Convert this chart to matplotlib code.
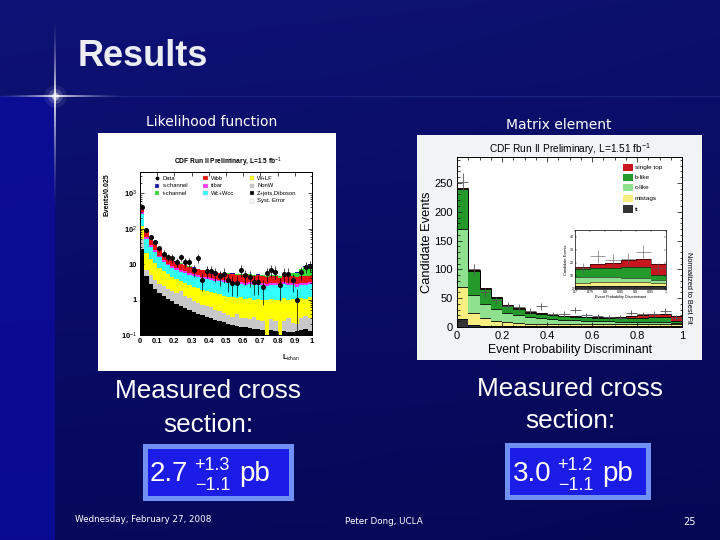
import numpy as np
import matplotlib
matplotlib.use("Agg")
import matplotlib.pyplot as plt
from matplotlib.patches import Rectangle

plt.rcParams['font.family'] = ['Liberation Sans', 'DejaVu Sans']
plt.rcParams['mathtext.fontset'] = 'custom'
plt.rcParams['mathtext.rm'] = 'Liberation Sans'
plt.rcParams['mathtext.it'] = 'Liberation Sans:italic'

W, H = 720, 540

# ---------------- left: likelihood function (Events/0.025) ----------------
lf_edges = np.linspace(0, 1, 41)
lf_zjets = [27, 4.5, 2.8, 2.0, 1.5, 1.25, 1.05, 0.9, 0.75, 0.65,
            0.57, 0.5, 0.44, 0.4, 0.36, 0.33, 0.3, 0.27, 0.25, 0.23,
            0.2, 0.19, 0.18, 0.17, 0.17, 0.16, 0.15, 0.15, 0.14, 0.05,
            0.14, 0.13, 0.05, 0.13, 0.12, 0.12, 0.13, 0.14, 0.15, 0.13]
lf_nonw = [25, 2.5, 2.0, 1.6, 1.3, 1.15, 0.95, 0.9, 0.8, 1.05,
           0.73, 0.6, 0.46, 0.4, 0.36, 0.32, 0.3, 0.25, 0.21, 0.19,
           0.16, 0.14, 0.2, 0.13, 0.13, 0.12, 0.17, 0.11, 0.11, 0.01,
           0.14, 0.11, 0.01, 0.12, 0.18, 0.1, 0.07, 0.16, 0.2, 0.17]
lf_wlf = [68, 13, 9.2, 6.9, 5.2, 3.9, 3.2, 2.6, 2.25, 1.6,
          1.6, 1.5, 1.4, 1.3, 1.18, 1.1, 1.0, 0.98, 0.94, 0.88,
          0.84, 0.82, 0.72, 0.85, 0.75, 0.82, 0.68, 0.79, 0.75, 0.89,
          0.77, 0.76, 0.89, 0.85, 0.7, 0.83, 0.7, 0.8, 0.7, 0.85]
lf_wc = [140, 31, 17, 11.5, 7.6, 5.1, 4.1, 3.4, 3.1, 2.8,
         2.7, 2.5, 2.4, 2.2, 2.1, 2.05, 2.0, 1.9, 1.9, 1.9,
         1.7, 1.65, 1.6, 1.65, 1.55, 1.6, 1.5, 1.55, 1.5, 1.45,
         1.55, 1.5, 1.35, 1.6, 1.5, 1.55, 1.4, 1.5, 1.45, 1.55]
lf_ttbar = [30, 6, 3.6, 2.6, 1.8, 1.3, 1.1, 0.9, 0.8, 0.7,
            0.65, 0.6, 0.55, 0.5, 0.47, 0.44, 0.42, 0.4, 0.38, 0.37,
            0.4, 0.4, 0.4, 0.4, 0.4, 0.4, 0.4, 0.4, 0.4, 0.4,
            0.4, 0.4, 0.4, 0.4, 0.4, 0.4, 0.4, 0.4, 0.4, 0.4]
lf_wbb = [150, 28, 17.4, 12.4, 8.6, 6.3, 5.1, 4.3, 3.8, 3.4,
          3.05, 2.8, 2.55, 2.4, 2.23, 2.06, 1.98, 1.9, 1.82, 1.73,
          2.0, 2.0, 1.9, 1.9, 1.9, 1.9, 1.8, 1.8, 1.7, 1.6,
          1.7, 1.6, 1.5, 1.7, 1.7, 1.7, 1.6, 1.6, 1.6, 1.6]
lf_tchan = [6, 1.5, 1.0, 0.7, 0.5, 0.4, 0.35, 0.3, 0.3, 0.25,
            0.25, 0.2, 0.2, 0.2, 0.2, 0.2, 0.2, 0.2, 0.2, 0.2,
            0.2, 0.2, 0.2, 0.2, 0.2, 0.2, 0.2, 0.25, 0.25, 0.25,
            0.3, 0.3, 0.35, 0.4, 0.5, 0.8, 1.5, 2.5, 4.0, 5.0]
lf_schan = [3, 0.6, 0.4, 0.3, 0.2, 0.15, 0.12, 0.1, 0.1, 0.1,
            0.1, 0.1, 0.1, 0.1, 0.1, 0.1, 0.1, 0.1, 0.1, 0.1,
            0.1, 0.1, 0.1, 0.1, 0.1, 0.1, 0.1, 0.1, 0.1, 0.1,
            0.1, 0.1, 0.1, 0.1, 0.1, 0.1, 0.12, 0.15, 0.2, 0.2]
lf_data = [400, 95, 60, 42, 28, 20, 16, 15, 11.5, 16,
           11.5, 11.5, 7, 15, 3.6, 6.5, 6.5, 5.5, 4.5, 5.3,
           3.5, 3.0, 3.0, 6.9, 4.8, 4.3, 3.1, 3.1, 2.2, 5.6,
           6.9, 6.2, 2.5, 5.3, 5.3, 3.5, 1.0, 6.0, 8.5, 9.0]
lf_layers = [lf_zjets, lf_nonw, lf_wlf, lf_wc, lf_ttbar, lf_wbb, lf_tchan, lf_schan]
lf_colors = ['black', '#c8c8c8', '#ffff00', '#33ffff', '#ff33ff', '#ee1111', '#33dd33', '#1111aa']

# ---------------- right: matrix element ----------------
rt_edges = np.linspace(0, 1, 21)
rt_tt = [14, 4, 2.5, 2, 1.8, 1.6, 1.5, 1.5, 1.5, 1.5, 1.5, 1.6, 1.7, 1.8, 2.0, 2.2, 2.4, 2.6, 2.6, 2.4]
rt_mistag = [56, 21, 12.5, 9, 7.2, 5.4, 4.5, 4.0, 3.5, 3.3, 3.1, 2.9, 2.8, 2.7, 2.8, 2.8, 2.8, 2.7, 2.8, 2.1]
rt_clike = [100, 30, 25, 21, 16, 14, 12, 10.5, 9, 8.2, 7.4, 6.5, 6.0, 5.5, 4.2, 4.0, 3.8, 3.2, 3.1, 2.5]
rt_blike = [70, 42, 26, 18, 12, 11, 7, 7, 6, 5.5, 5.5, 6, 5.5, 5.5, 6, 7, 7, 8.5, 8.5, 4]
rt_stop = [1, 1.5, 1.5, 1.5, 1.5, 1.5, 1, 1, 1, 1, 1, 1, 1, 1.5, 2, 3, 4, 5, 6, 8]
rt_data = [252, 100, 60, 46, 37, 34, 28, 36, 22, 23, 29, 20, 19, 17, 16, 25, 22, 23, 28, 16]
rt_layers = [rt_tt, rt_mistag, rt_clike, rt_blike, rt_stop]
rt_colors = ['#333333', '#f6ee80', '#8fe08f', '#249a2a', '#c8161e']
rt_names = ['single top', 'b-like', 'c-like', 'mistags', 'tt']

fig = plt.figure(figsize=(7.2, 5.4), dpi=100)

# slide background
bg = fig.add_axes([0, 0, 1, 1])
bg.set_xlim(0, W)
bg.set_ylim(H, 0)
bg.axis('off')
yy = np.linspace(0, 1, 200)[:, None]
xx = np.linspace(0, 1, 300)[None, :]
top = np.array([14, 18, 118]) / 255
bot = np.array([6, 8, 92]) / 255
grad = top[None, None, :] * (1 - yy[..., None]) + bot[None, None, :] * yy[..., None]
grad = grad * (1.0 - 0.08 * xx[..., None])
bg.imshow(np.clip(grad, 0, 1), extent=[0, W, H, 0], aspect='auto', zorder=0)
bg.add_patch(Rectangle((0, 96), 55, H - 96, color='#0b0c9e', alpha=0.8, lw=0, zorder=1))


def glow(x0, y0, x1, y1, a0, lw):
    n = 40
    ts = np.linspace(0, 1, n + 1)
    for i in range(n):
        t = ts[i]
        bg.plot([x0 + (x1 - x0) * ts[i], x0 + (x1 - x0) * ts[i + 1]],
                [y0 + (y1 - y0) * ts[i], y0 + (y1 - y0) * ts[i + 1]],
                color='white', lw=lw, alpha=a0 * (1 - t) ** 1.6,
                solid_capstyle='butt', zorder=3)


bg.plot([0, W], [96, 96], color='#3848b0', lw=0.8, alpha=0.35, zorder=2)
glow(55, 96, 55, 18, 0.9, 1.4)
glow(55, 96, 55, 210, 0.9, 1.4)
glow(55, 96, 0, 96, 0.9, 1.4)
glow(55, 96, 125, 96, 0.9, 1.4)
for s, a in [(260, 0.08), (110, 0.18), (30, 0.5)]:
    bg.scatter([55], [96], s=s, color='white', alpha=a, lw=0, zorder=3)

bg.text(78, 57, 'Results', color='#ececf4', fontsize=26, fontweight='bold',
        ha='left', va='center', zorder=4)
bg.text(212, 122, 'Likelihood function', color='white', fontsize=10,
        family='DejaVu Sans', ha='center', va='center', zorder=4)
bg.text(559, 125, 'Matrix element', color='white', fontsize=10,
        family='DejaVu Sans', ha='center', va='center', zorder=4)

# picture backgrounds
bg.add_patch(Rectangle((98, 133), 238, 238, color='white', lw=0, zorder=2))
bg.add_patch(Rectangle((417, 135), 285, 225, color='#f2f3f7', lw=0, zorder=2))

# cross section text and boxes
for cx, y1, y2 in [(208, 391, 425), (570, 389, 421)]:
    bg.text(cx, y1, 'Measured cross', color='white', fontsize=18.8, ha='center', va='center', zorder=4)
    bg.text(cx, y2, 'section:', color='white', fontsize=18.8, ha='center', va='center', zorder=4)
for x0, y0, w, h in [(143, 444, 151, 57), (505, 443, 146, 57)]:
    bg.add_patch(Rectangle((x0, y0), w, h, color='#7090f4', lw=0, zorder=3))
    bg.add_patch(Rectangle((x0 + 5, y0 + 5), w - 10, h - 10, color='#1c1ce8', lw=0, zorder=3))
for xs, val, up, dn in [(150, '2.7', '+1.3', '\u22121.1'), (513, '3.0', '+1.2', '\u22121.1')]:
    bg.text(xs, 474, val, color='white', fontsize=20, ha='left', va='center', zorder=4)
    bg.text(xs + 44, 465, up, color='white', fontsize=13, ha='left', va='center', zorder=4)
    bg.text(xs + 45, 486, dn, color='white', fontsize=13, ha='left', va='center', zorder=4)
    bg.text(xs + 89, 474, 'pb', color='white', fontsize=20, ha='left', va='center', zorder=4)

bg.text(75, 520, 'Wednesday, February 27, 2008', color='white', fontsize=6.3,
        family='DejaVu Sans', ha='left', va='center', zorder=4)
bg.text(345, 521, 'Peter Dong, UCLA', color='white', fontsize=6.3,
        family='DejaVu Sans', ha='left', va='center', zorder=4)
bg.text(689, 522, '25', color='white', fontsize=7, family='DejaVu Sans',
        ha='center', va='center', zorder=4)

# ---------------- left axes ----------------
ax1 = fig.add_axes([140 / W, 1 - 335 / H, 172 / W, 163 / H])
base = np.full(40, 1e-3)
for vals, col in zip(lf_layers, lf_colors):
    topv = base + np.array(vals)
    ax1.stairs(topv, lf_edges, baseline=base, fill=True, color=col, lw=0)
    base = topv
lf_c = 0.5 * (lf_edges[1:] + lf_edges[:-1])
d = np.array(lf_data)
err_lo = np.minimum(np.sqrt(d), d - 0.12)
ax1.errorbar(lf_c, d, yerr=[err_lo, np.sqrt(d)], fmt='o', ms=2.6, color='black',
             elinewidth=0.5, capsize=0, zorder=5)
ax1.set_yscale('log')
ax1.set_xlim(0, 1)
ax1.set_ylim(0.1, 4000)
ax1.set_xticks(np.arange(0, 1.01, 0.1))
ax1.set_xticklabels(['0', '0.1', '0.2', '0.3', '0.4', '0.5', '0.6', '0.7', '0.8', '0.9', '1'])
ax1.set_yticks([0.1, 1, 10, 100, 1000])
ax1.set_yticklabels(['10$^{-1}$', '1', '10', '10$^{2}$', '10$^{3}$'])
ax1.tick_params(which='both', direction='in', top=True, right=True, labelsize=5.4,
                width=0.5, length=3, pad=2)
ax1.tick_params(which='minor', length=1.5)
for lab in ax1.get_xticklabels() + ax1.get_yticklabels():
    lab.set_fontweight('bold')
for sp in ax1.spines.values():
    sp.set_linewidth(0.7)
ax1.text(0.51, 1.06, 'CDF Run II Preliminary, L=1.5 fb$^{-1}$', transform=ax1.transAxes,
         ha='center', va='center', fontsize=4.8, fontweight='bold')
ax1.text(-0.19, 0.86, 'Events/0.025', transform=ax1.transAxes, rotation=90,
         ha='center', va='center', fontsize=5, fontweight='bold')
ax1.text(0.88, -0.14, 'L$_{\\rm ichan}$', transform=ax1.transAxes,
         ha='center', va='center', fontsize=5, fontweight='bold')

leg1 = [('Data', None), ('s-channel', lf_colors[7]), ('t-channel', lf_colors[6]),
        ('Wbb', lf_colors[5]), ('ttbar', lf_colors[4]), ('Wc+Wcc', lf_colors[3]),
        ('W+LF', lf_colors[2]), ('NonW', lf_colors[1]), ('Z+jets,Diboson', lf_colors[0]),
        ('Syst. Error', 'white')]
cols = [0.085, 0.365, 0.637]
rows = [0.961, 0.916, 0.870, 0.824]
slots = [(0, 0), (0, 1), (0, 2), (1, 0), (1, 1), (1, 2), (2, 0), (2, 1), (2, 2), (2, 3)]
for (name, col), (ci, ri) in zip(leg1, slots):
    x, y = cols[ci], rows[ri]
    if col is None:
        ax1.plot([x + 0.014], [y], 'o', ms=1.8, color='black', transform=ax1.transAxes)
    else:
        ax1.add_patch(Rectangle((x, y - 0.013), 0.028, 0.026, transform=ax1.transAxes,
                                facecolor=col, edgecolor='#bbbbbb', lw=0.3))
    ax1.text(x + 0.045, y, name, transform=ax1.transAxes, ha='left', va='center',
             fontsize=4.2)

# ---------------- right axes ----------------
ax2 = fig.add_axes([457 / W, 1 - 327 / H, 225 / W, 170 / H])
rt_c = 0.5 * (rt_edges[1:] + rt_edges[:-1])


def draw_stack(ax, lw):
    b = np.zeros(20)
    for vals, col in zip(rt_layers, rt_colors):
        t = b + np.array(vals)
        ax.stairs(t, rt_edges, baseline=b, fill=True, color=col, lw=0)
        ax.stairs(t, rt_edges, baseline=None, color='black', lw=lw)
        b = t
    dd = np.array(rt_data)
    ax.errorbar(rt_c, dd, xerr=0.025, yerr=np.sqrt(dd), fmt='none', ecolor='#555555',
                elinewidth=lw, capsize=0, zorder=5)


draw_stack(ax2, 0.6)
ax2.set_xlim(0, 1)
ax2.set_ylim(0, 295)
ax2.set_xticks([0, 0.2, 0.4, 0.6, 0.8, 1])
ax2.set_xticklabels(['0', '0.2', '0.4', '0.6', '0.8', '1'])
ax2.set_yticks([0, 50, 100, 150, 200, 250])
ax2.set_xticks(np.arange(0, 1.001, 0.05), minor=True)
ax2.set_yticks(np.arange(0, 291, 10), minor=True)
ax2.tick_params(which='both', direction='in', top=True, right=True, labelsize=8,
                width=0.5, length=3.5, pad=3)
ax2.tick_params(which='minor', length=1.8)
for sp in ax2.spines.values():
    sp.set_linewidth(0.7)
ax2.set_title('CDF Run II Preliminary, L=1.51 fb$^{-1}$', fontsize=7.3, pad=3)
ax2.set_ylabel('Candidate Events', fontsize=9.3, labelpad=1)
ax2.set_xlabel('Event Probability Discriminant', fontsize=8.8, labelpad=2)
ax2.text(1.03, 0.23, 'Normalized to Best Fit', transform=ax2.transAxes, rotation=-90,
         ha='center', va='center', fontsize=5.3)
leg_y = [0.939, 0.880, 0.822, 0.757, 0.694]
for name, col, y in zip(rt_names, rt_colors[::-1], leg_y):
    ax2.add_patch(Rectangle((0.738, y - 0.021), 0.042, 0.042, transform=ax2.transAxes,
                            facecolor=col, lw=0))
    ax2.text(0.79, y, name, transform=ax2.transAxes, ha='left', va='center', fontsize=4.6)

# inset
ax3 = fig.add_axes([575 / W, 1 - 289 / H, 91 / W, 59 / H])
draw_stack(ax3, 0.4)
ax3.set_xlim(0.7, 1)
ax3.set_ylim(0, 45)
ax3.set_xticks([0.7, 0.75, 0.8, 0.85, 0.9, 0.95, 1])
ax3.set_xticklabels(['0.7', '0.75', '0.8', '0.85', '0.9', '0.95', '1'])
ax3.set_yticks([0, 10, 20, 30, 40])
ax3.tick_params(which='both', direction='in', top=True, right=True, labelsize=2.6,
                width=0.3, length=1.5, pad=1)
for sp in ax3.spines.values():
    sp.set_linewidth(0.5)
ax3.set_ylabel('Candidate Events', fontsize=2.8, labelpad=1)
ax3.set_xlabel('Event Probability Discriminant', fontsize=2.8, labelpad=0.5)

fig.savefig('out.png', dpi=100)
